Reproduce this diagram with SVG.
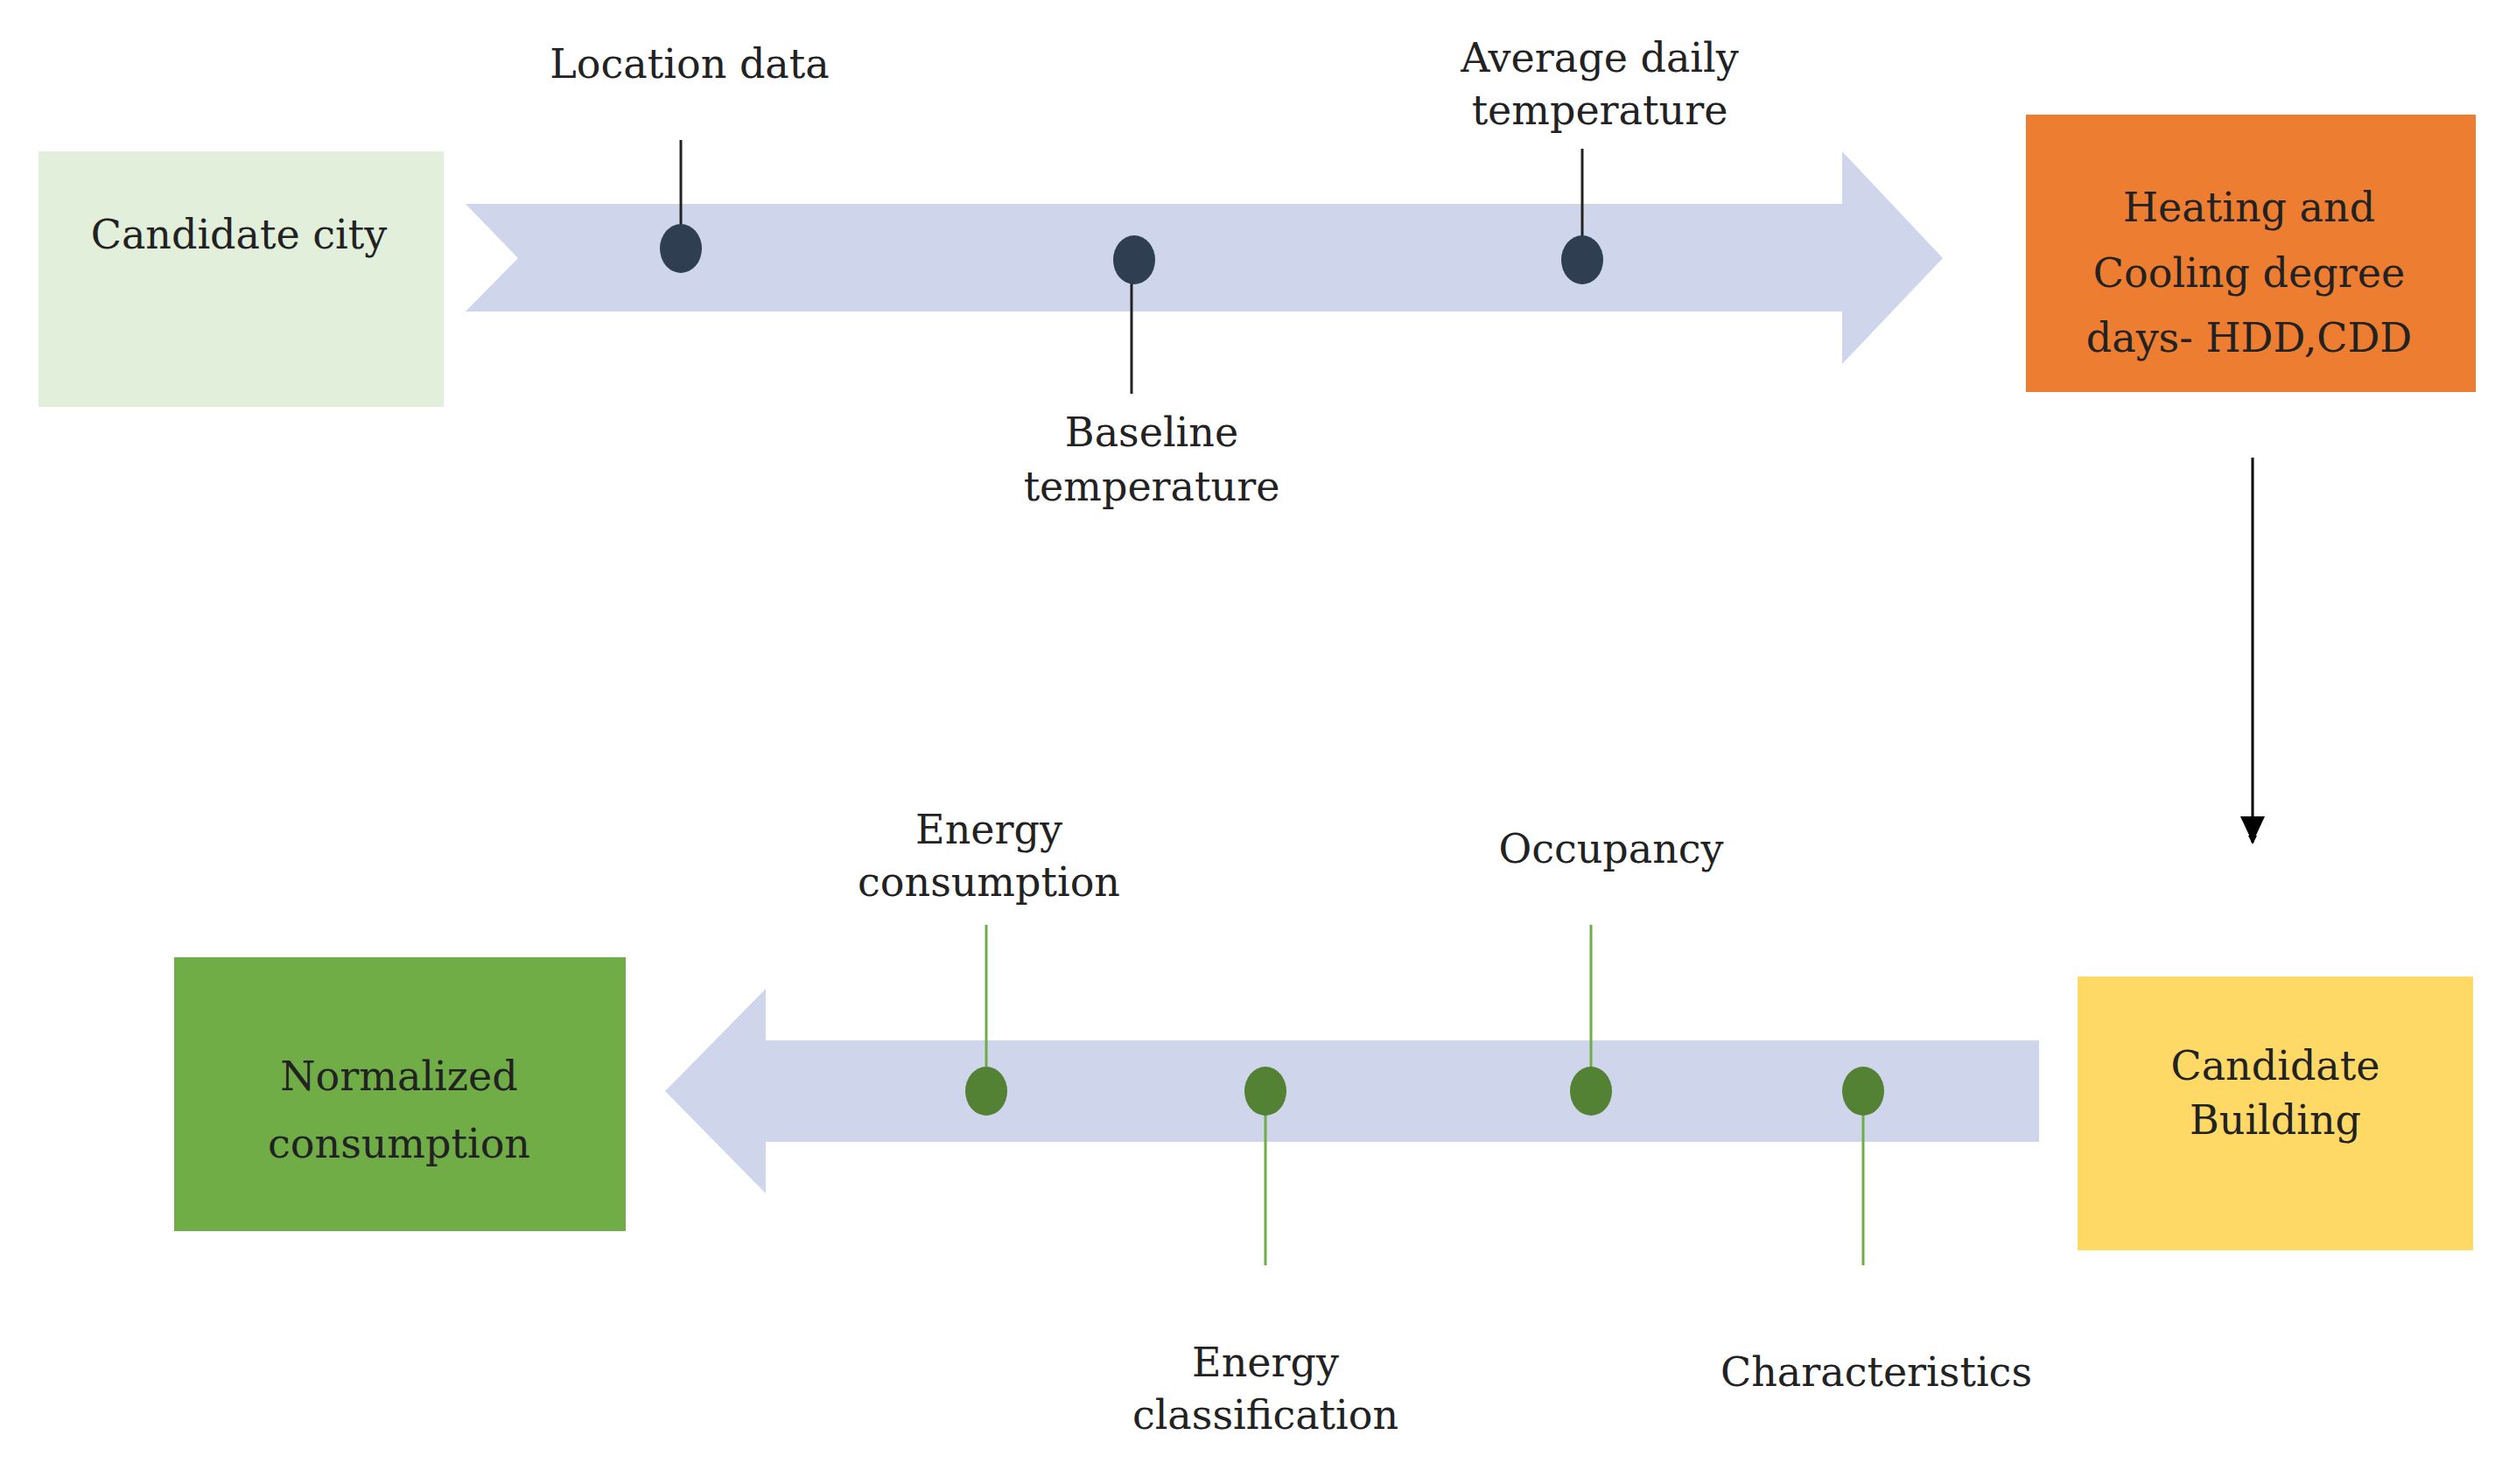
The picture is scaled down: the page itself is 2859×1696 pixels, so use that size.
<svg xmlns="http://www.w3.org/2000/svg" width="2859" height="1696" viewBox="0 0 2859 1696">
<style>
text{font-family:"DejaVu Serif","Liberation Serif",serif;font-size:46px;fill:#222;text-anchor:middle;dominant-baseline:central}
.dk{fill:#2f3e50}
.gd{fill:#548235}
.bl{stroke:#222;stroke-width:3}
.gl{stroke:#70ad47;stroke-width:3}
.band{fill:#cfd5ea}
</style>
<defs><marker id="ah" markerWidth="10" markerHeight="10" refX="8" refY="5" orient="auto" markerUnits="userSpaceOnUse" viewBox="0 0 10 10"><path d="M0,0 L10,5 L0,10 z" fill="#000"/></marker></defs>
<rect width="2859" height="1696" fill="#fff"/>
<g id="connectors">
<polygon class="band" points="532,233 2105,233 2105,173 2220,295 2105,416 2105,356 532,356 592,295"/>
<polygon class="band" points="2330,1189 875,1189 875,1130 760,1247 875,1364 875,1305 2330,1305"/>
<line x1="2574" y1="523" x2="2574" y2="963" stroke="#000" stroke-width="3" marker-end="url(#ah)" style="marker-end:url(#ah)"/>
<path d="M2574,963 l-14,-30 h28 z" fill="#000"/>
<line class="bl" x1="778" y1="160" x2="778" y2="258"/>
<line class="bl" x1="1293" y1="323" x2="1293" y2="450"/>
<line class="bl" x1="1808" y1="170" x2="1808" y2="271"/>
<line class="gl" x1="1127" y1="1057" x2="1127" y2="1221"/>
<line class="gl" x1="1818" y1="1057" x2="1818" y2="1221"/>
<line class="gl" x1="1446" y1="1273" x2="1446" y2="1446"/>
<line class="gl" x1="2129" y1="1273" x2="2129" y2="1446"/>
</g>
<g id="dots">
<ellipse class="dk" cx="778" cy="284" rx="24" ry="28"/>
<ellipse class="dk" cx="1296" cy="297" rx="24" ry="28"/>
<ellipse class="dk" cx="1808" cy="297" rx="24" ry="28"/>
<ellipse class="gd" cx="1127" cy="1247" rx="24" ry="28"/>
<ellipse class="gd" cx="1446" cy="1247" rx="24" ry="28"/>
<ellipse class="gd" cx="1818" cy="1247" rx="24" ry="28"/>
<ellipse class="gd" cx="2129" cy="1247" rx="24" ry="28"/>
</g>
<g id="city"><rect x="44" y="173" width="463" height="292" fill="#e2efda"/><text x="273" y="268">Candidate city</text></g>
<g id="hdd"><rect x="2315" y="131" width="514" height="317" fill="#ed7d31"/><text x="2570" y="237">Heating and</text><text x="2570" y="312">Cooling degree</text><text x="2570" y="386">days- HDD,CDD</text></g>
<g id="building"><rect x="2374" y="1116" width="452" height="313" fill="#ffd966"/><text x="2600" y="1218">Candidate</text><text x="2600" y="1280">Building</text></g>
<g id="normalized"><rect x="199" y="1094" width="516" height="313" fill="#70ad47"/><text x="456" y="1230">Normalized</text><text x="456" y="1307">consumption</text></g>
<g id="labels">
<text x="788" y="73">Location data</text>
<text x="1828" y="66">Average daily</text><text x="1828" y="126">temperature</text>
<text x="1316" y="494">Baseline</text><text x="1316" y="556">temperature</text>
<text x="1130" y="948">Energy</text><text x="1130" y="1008">consumption</text>
<text x="1841" y="970">Occupancy</text>
<text x="1446" y="1557">Energy</text><text x="1446" y="1617">classification</text>
<text x="2144" y="1568">Characteristics</text>
</g>
</svg>
